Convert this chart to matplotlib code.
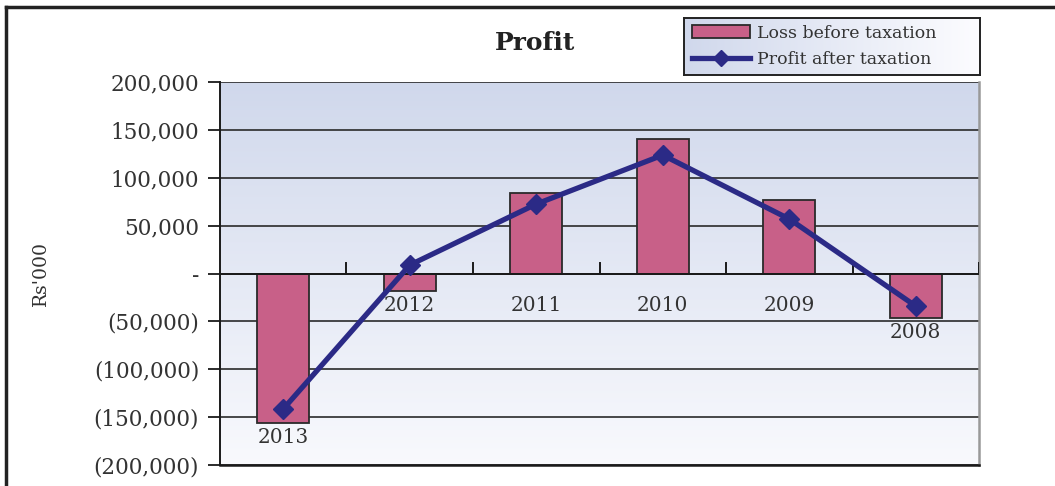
import numpy as np
import matplotlib.pyplot as plt
from matplotlib.patches import Patch
from matplotlib.lines import Line2D

# data (Rs'000)
years = ['2013', '2012', '2011', '2010', '2009', '2008']
loss_before_tax = [-156000, -18000, 84000, 140500, 76800, -46500]
profit_after_tax = [-141500, 8900, 72600, 123800, 57000, -34000]
yticks = [200000, 150000, 100000, 50000, 0, -50000, -100000, -150000, -200000]

serif = 'DejaVu Serif'
txt_col = '#333333'
bar_col = '#c86088'
line_col = '#2b2a86'

def fmt(v):
    if v == 0:
        return '-'
    if v < 0:
        return '({:,})'.format(-v)
    return '{:,}'.format(v)

fig = plt.figure(figsize=(10.55, 4.86), dpi=100)

# outer frame (top and left edge)
fig.add_artist(Line2D([0.006, 0.006], [0, 0.986], color='#222222', lw=2.5,
                      transform=fig.transFigure))
fig.add_artist(Line2D([0.006, 1.0], [0.986, 0.986], color='#222222', lw=2.5,
                      transform=fig.transFigure))

ax = fig.add_axes([0.2085, 0.0432, 0.7195, 0.7878])
x = np.arange(len(years))

# gradient background
grad = np.linspace(0, 1, 256).reshape(-1, 1)
top = np.array([0.816, 0.847, 0.925])
bot = np.array([0.975, 0.978, 0.992])
img = bot + (top - bot) * grad
ax.imshow(img[:, None, :].repeat(2, axis=1), extent=[-0.5, 5.5, -200000, 200000],
          origin='lower', aspect='auto', zorder=0)

for v in yticks:
    ax.axhline(v, color='#2a2a2a', lw=1.2, zorder=1)

ax.bar(x, loss_before_tax, width=0.41, color=bar_col, edgecolor='#2a2a2a',
       lw=1.3, zorder=2)
ax.plot(x, profit_after_tax, color=line_col, lw=3.8, marker='D', ms=10,
        zorder=4)

# zero axis with tick marks between categories
ax.axhline(0, color='#1a1a1a', lw=1.4, zorder=3)
for b in np.arange(0.5, 6.0, 1.0):
    ax.plot([b, b], [0, 11000], color='#1a1a1a', lw=1.4, zorder=3)

# category labels under bars / axis
for i, yr in enumerate(years):
    ly = min(loss_before_tax[i], -18000) - 15500
    ax.text(i, ly, yr, ha='center', va='center', fontsize=14.5,
            family=serif, color=txt_col, zorder=5)

ax.set_xlim(-0.5, 5.5)
ax.set_ylim(-200000, 200000)
ax.set_xticks([])
ax.set_yticks(yticks)
ax.set_yticklabels([fmt(v) for v in yticks], family=serif, fontsize=15.5,
                   color=txt_col)
ax.tick_params(axis='y', length=9, width=1.3, color='#1a1a1a', pad=6)
ax.set_ylabel("Rs'000", family=serif, fontsize=13.5, color=txt_col)
ax.yaxis.set_label_coords(-0.224, 0.5)
ax.spines['top'].set_visible(False)
ax.spines['left'].set_color('#1a1a1a')
ax.spines['left'].set_linewidth(1.4)
ax.spines['bottom'].set_color('#1a1a1a')
ax.spines['bottom'].set_linewidth(1.8)
ax.spines['right'].set_color('#999999')
ax.spines['right'].set_linewidth(1.8)

fig.text(0.507, 0.912, 'Profit', ha='center', va='center', fontsize=18,
         fontweight='bold', family=serif, color='#222222')

# legend box with horizontal gradient
lax = fig.add_axes([0.648, 0.846, 0.281, 0.117])
lgrad = np.linspace(0, 1, 256).reshape(1, -1)
limg = top + (np.array([0.99, 0.99, 1.0]) - top) * lgrad[..., None]
lax.imshow(limg, extent=[0, 1, 0, 1], aspect='auto')
lax.set_xlim(0, 1)
lax.set_ylim(0, 1)
lax.set_xticks([])
lax.set_yticks([])
for s in lax.spines.values():
    s.set_color('#222222')
    s.set_linewidth(1.4)
handles = [Patch(facecolor=bar_col, edgecolor='#2a2a2a', lw=1.3),
           Line2D([], [], color=line_col, lw=3.8, marker='D', ms=8)]
lax.legend(handles, ['Loss before taxation', 'Profit after taxation'],
           loc='center left', frameon=False, prop={'family': serif, 'size': 12.5},
           handlelength=3.3, handleheight=0.7, handletextpad=0.4,
           labelspacing=0.55, borderaxespad=0.1, labelcolor=txt_col)

fig.savefig('out.png', dpi=100)
